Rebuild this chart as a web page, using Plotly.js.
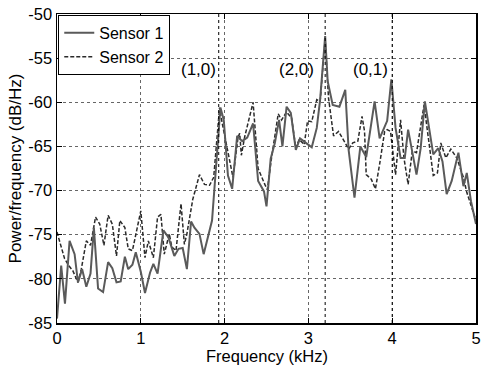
<!DOCTYPE html>
<html><head><meta charset="utf-8">
<script src="https://cdn.plot.ly/plotly-3.0.1.min.js"></script>
<style>body{margin:0;background:#fff}#c{width:482px;height:365px}</style>
</head><body><div id="c"></div>
<script>
const freq1 = [0.00,0.05,0.095,0.15,0.21,0.25,0.30,0.35,0.40,0.44,0.49,0.55,0.61,0.66,0.71,0.76,0.81,0.85,0.90,0.94,1.00,1.05,1.11,1.15,1.20,1.27,1.33,1.40,1.45,1.50,1.55,1.60,1.64,1.70,1.75,1.85,1.92,1.95,1.99,2.04,2.09,2.15,2.21,2.27,2.34,2.40,2.47,2.50,2.55,2.60,2.65,2.69,2.74,2.79,2.85,2.90,2.97,3.04,3.10,3.14,3.20,3.23,3.29,3.37,3.44,3.48,3.55,3.62,3.69,3.79,3.85,3.94,3.99,4.04,4.10,4.15,4.19,4.24,4.29,4.34,4.39,4.44,4.49,4.55,4.60,4.65,4.71,4.79,4.85,4.89,4.94,5.00];
const sensor1 = [-84.5,-78.5,-82.8,-75.7,-77.2,-80.4,-78.9,-80.9,-79.4,-74.2,-81.1,-81.5,-78.1,-78.8,-80.4,-80.3,-77.5,-78.9,-78.4,-77.0,-79.2,-81.6,-79.3,-78.3,-79.4,-74.5,-75.3,-77.4,-76.6,-76.5,-78.9,-73.5,-74.2,-74.9,-77.2,-73.4,-64.5,-60.6,-62.0,-68.3,-69.8,-63.8,-64.4,-64.0,-62.4,-68.9,-70.1,-71.8,-66.4,-64.6,-62.0,-65.0,-60.5,-61.2,-65.4,-64.1,-64.6,-65.1,-62.9,-59.7,-52.5,-57.6,-60.3,-60.5,-58.6,-65.4,-70.8,-65.0,-66.2,-59.9,-64.1,-62.1,-57.4,-62.9,-66.3,-66.3,-63.1,-65.5,-68.2,-65.2,-59.9,-62.9,-65.9,-65.2,-66.7,-70.4,-68.9,-65.7,-69.5,-68.0,-71.2,-73.8];
const freq2 = [0.00,0.09,0.14,0.19,0.25,0.29,0.35,0.40,0.46,0.51,0.56,0.61,0.66,0.71,0.75,0.81,0.85,0.90,1.00,1.05,1.09,1.15,1.20,1.24,1.28,1.34,1.37,1.42,1.48,1.52,1.55,1.62,1.70,1.76,1.82,1.87,1.90,1.94,1.97,2.01,2.06,2.10,2.16,2.18,2.20,2.24,2.34,2.40,2.48,2.51,2.56,2.64,2.68,2.74,2.80,2.85,2.89,2.95,2.99,3.04,3.10,3.14,3.20,3.24,3.30,3.36,3.48,3.53,3.59,3.64,3.67,3.69,3.75,3.80,3.85,3.91,3.94,3.98,4.04,4.10,4.14,4.19,4.24,4.29,4.38,4.46,4.49,4.54,4.58,4.64,4.70,4.77,4.85,4.89,4.95,5.00];
const sensor2 = [-74.7,-77.7,-78.5,-79.1,-80.4,-78.9,-75.7,-76.2,-73.0,-73.8,-76.2,-72.8,-73.8,-77.4,-73.4,-74.2,-76.6,-76.8,-72.3,-77.6,-75.7,-77.6,-73.0,-72.7,-77.2,-74.9,-76.4,-76.8,-71.5,-76.1,-74.9,-71.0,-68.2,-69.3,-69.4,-68.5,-65.1,-60.6,-62.3,-64.3,-66.8,-68.5,-64.0,-63.5,-66.0,-63.9,-60.0,-67.5,-69.3,-69.9,-66.3,-61.3,-62.0,-61.1,-61.8,-65.2,-64.2,-64.8,-62.1,-62.2,-59.7,-59.9,-52.9,-59.5,-63.8,-63.3,-65.3,-64.6,-64.4,-61.6,-63.3,-68.2,-68.7,-69.8,-67.0,-63.3,-63.1,-63.3,-68.2,-62.0,-66.3,-69.3,-65.5,-65.7,-60.3,-65.9,-68.3,-68.0,-64.6,-66.3,-65.3,-66.3,-68.5,-70.2,-71.9,-73.4];
const modeFreqs = [1.93, 3.2, 4.0];
const modeLabels = ["(1,0)", "(2,0)", "(0,1)"];
const labelX = [1.69, 2.86, 3.74];
const labelY = -56.3;
const xTicks = [0,1,2,3,4,5];
const yTicks = [-85,-80,-75,-70,-65,-60,-55,-50];
const xTitle = "Frequency (kHz)";
const yTitle = "Power/frequency (dB/Hz)";

const FONT = "Liberation Sans, Arial, sans-serif";
const traces = [
  {x: freq2, y: sensor2, name: "Sensor 2", mode: "lines", line: {color: "#2a2a2a", width: 1.5, dash: "4px,2px"}, legendrank: 2},
  {x: freq1, y: sensor1, name: "Sensor 1", mode: "lines", line: {color: "#5a5a5a", width: 2}, legendrank: 1}
];
const shapes = modeFreqs.map(f => ({type: "line", xref: "x", yref: "paper", x0: f, x1: f, y0: 0, y1: 1,
  line: {color: "#000", width: 1, dash: "dot"}}));
const annotations = modeLabels.map((t, i) => ({x: labelX[i], y: labelY, xref: "x", yref: "y", text: t,
  showarrow: false, font: {size: 17, color: "#000", family: FONT}}));
annotations.push({x: 0.5, y: 0, xref: "paper", yref: "paper", xanchor: "center", yanchor: "top", yshift: -22,
  text: xTitle, showarrow: false, font: {size: 16.5, color: "#000", family: FONT}});
const ax = {showline: true, mirror: "ticks", linecolor: "#000", linewidth: 1.5, ticks: "inside", ticklen: 5,
  tickcolor: "#000", showgrid: true, gridcolor: "#666", griddash: "dot", gridwidth: 1, zeroline: false,
  tickfont: {size: 16.5, color: "#000", family: FONT}, ticklabeloverflow: "allow"};
const layout = {
  width: 482, height: 365, margin: {l: 57, r: 6, t: 14, b: 42},
  paper_bgcolor: "#fff", plot_bgcolor: "#fff",
  font: {family: FONT, color: "#000"},
  xaxis: Object.assign({}, ax, {range: [0, 5], tickvals: xTicks, ticktext: xTicks.map(String)}),
  yaxis: Object.assign({}, ax, {range: [-85, -50], tickvals: yTicks, ticktext: yTicks.map(String),
    title: {text: yTitle, font: {size: 17}, standoff: 2}}),
  showlegend: true,
  legend: {x: 0.003, y: 0.997, xanchor: "left", yanchor: "top", bgcolor: "#fff", bordercolor: "#000",
    borderwidth: 1, font: {size: 16}, tracegroupgap: 0, itemwidth: 30, traceorder: "normal"},
  shapes: shapes, annotations: annotations
};
Plotly.newPlot("c", traces, layout, {displayModeBar: false, staticPlot: true});
</script></body></html>
